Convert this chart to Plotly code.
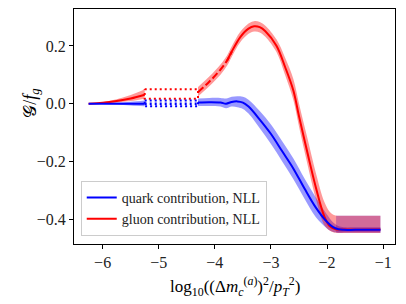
import plotly.graph_objects as go

# ---------------- data ----------------
# quark, left solid part
q_left_x = [-6.25, -6.0, -5.75, -5.5, -5.25]
q_left_y = [0.0, 0.0, 0.0, 0.0, 0.0]
q_left_hi = [0.0, 0.002, 0.004, 0.007, 0.011]
q_left_lo = [0.0, -0.001, -0.003, -0.006, -0.009]

# gluon, left solid part
g_left_x = [-6.25, -6.0, -5.75, -5.5, -5.25]
g_left_y = [0.0, 0.003, 0.009, 0.018, 0.031]
g_left_hi = [0.0, 0.005, 0.015, 0.030, 0.050]
g_left_lo = [0.0, 0.001, 0.004, 0.009, 0.017]

# dotted (unreliable) window
win_x = [-5.25, -4.3]
q_win_y = [0.0, 0.0]
q_win_hi = [0.011, 0.011]
q_win_lo = [-0.009, -0.009]
g_win_hi = [0.050, 0.050]
g_win_lo = [0.017, 0.017]

# quark, right part
q_x = [-4.3, -4.1, -3.9, -3.8, -3.7, -3.6, -3.5, -3.4, -3.2, -3.0, -2.8, -2.6,
       -2.4, -2.2, -2.0, -1.9, -1.8, -1.7, -1.5, -1.05]
q_y = [0.004, 0.005, 0.004, 0.0, 0.006, 0.008, 0.004, -0.010, -0.055, -0.105,
       -0.165, -0.225, -0.295, -0.360, -0.410, -0.427, -0.435, -0.437, -0.437, -0.437]
q_hi = [0.018, 0.020, 0.020, 0.018, 0.024, 0.026, 0.024, 0.014, -0.025, -0.072,
        -0.130, -0.190, -0.260, -0.325, -0.385, -0.410, -0.424, -0.428, -0.428, -0.428]
q_lo = [-0.008, -0.008, -0.010, -0.016, -0.010, -0.012, -0.018, -0.034, -0.085, -0.140,
        -0.200, -0.262, -0.330, -0.393, -0.432, -0.444, -0.447, -0.446, -0.446, -0.446]

# quark band on the plateau (coincides with the gluon band)
q_end_x = [-1.84, -1.05]
q_end_hi = [-0.388, -0.388]
q_end_lo = [-0.446, -0.446]

# gluon, right part (dashed up to -3.78, solid after)
g_x = [-4.3, -4.1, -3.9, -3.78, -3.7, -3.55, -3.4, -3.3, -3.2, -3.1, -2.9, -2.75,
       -2.6, -2.5, -2.35, -2.2, -2.05, -1.95, -1.85, -1.7, -1.05]
g_y = [0.040, 0.076, 0.118, 0.150, 0.180, 0.230, 0.260, 0.268, 0.265, 0.251, 0.200,
       0.128, 0.045, -0.044, -0.170, -0.290, -0.390, -0.425, -0.435, -0.436, -0.436]
g_hi = [0.058, 0.094, 0.136, 0.168, 0.198, 0.248, 0.278, 0.286, 0.283, 0.270, 0.222,
        0.160, 0.085, 0.000, -0.120, -0.240, -0.340, -0.375, -0.387, -0.388, -0.388]
g_lo = [0.025, 0.060, 0.100, 0.132, 0.162, 0.212, 0.242, 0.250, 0.247, 0.232, 0.178,
        0.100, 0.012, -0.080, -0.210, -0.330, -0.420, -0.440, -0.447, -0.448, -0.448]
g_dash_end = 4  # index up to which the central gluon line is dashed

BLUE = "rgb(0,0,255)"
RED = "rgb(255,0,0)"
BLUE_FILL = "rgba(0,0,255,0.4)"
RED_FILL = "rgba(255,0,0,0.4)"
SERIF = "Liberation Serif, DejaVu Serif, serif"

fig = go.Figure()


def band(x, lo, hi, fill, shape="spline"):
    fig.add_trace(go.Scatter(x=x, y=lo, mode="lines", line=dict(width=0, shape=shape),
                             showlegend=False, hoverinfo="skip"))
    fig.add_trace(go.Scatter(x=x, y=hi, mode="lines", line=dict(width=0, shape=shape),
                             fill="tonexty", fillcolor=fill, showlegend=False, hoverinfo="skip"))


def line(x, y, color, dash="solid", width=2, name=None, legend=False, shape="spline"):
    fig.add_trace(go.Scatter(x=x, y=y, mode="lines",
                             line=dict(color=color, width=width, dash=dash, shape=shape),
                             name=name, showlegend=legend, hoverinfo="skip"))


def box(x, lo, hi, color):
    bx = [x[0], x[1], x[1], x[0], x[0]]
    by = [hi[0], hi[1], lo[1], lo[0], hi[0]]
    line(bx, by, color, dash="2px,3px", width=2, shape="linear")


# bands
band(q_left_x, q_left_lo, q_left_hi, BLUE_FILL)
band(q_x, q_lo, q_hi, BLUE_FILL)
band(q_end_x, q_end_lo, q_end_hi, "rgba(0,0,255,0.3)", shape="linear")
band(g_left_x, g_left_lo, g_left_hi, RED_FILL)
band(g_x, g_lo, g_hi, RED_FILL)

# dotted window
box(win_x, g_win_lo, g_win_hi, RED)
box(win_x, q_win_lo, q_win_hi, BLUE)
line(win_x, q_win_y, BLUE, dash="2px,3px", width=2.5, shape="linear")

# central lines
line(g_left_x, g_left_y, RED)
line(g_x[:g_dash_end + 1], g_y[:g_dash_end + 1], RED, dash="7px,3px")
line(g_x[g_dash_end - 1:], g_y[g_dash_end - 1:], RED)
line(q_left_x, q_left_y, BLUE)
line(q_x, q_y, BLUE)

# legend entries
fig.add_trace(go.Scatter(x=[None], y=[None], mode="lines", line=dict(color=BLUE, width=2),
                         name="quark contribution, NLL"))
fig.add_trace(go.Scatter(x=[None], y=[None], mode="lines", line=dict(color=RED, width=2),
                         name="gluon contribution, NLL"))

axis_common = dict(showgrid=False, zeroline=False, showline=True, linecolor="black",
                   linewidth=1, mirror=True, ticks="outside", ticklen=4, tickwidth=1,
                   tickcolor="black", tickfont=dict(family=SERIF, size=16, color="#222222"))

fig.update_layout(
    width=406, height=304,
    margin=dict(l=74, r=11, t=9, b=60),
    paper_bgcolor="white", plot_bgcolor="white",
    font=dict(family=SERIF, color="black"),
    xaxis=dict(range=[-6.51, -0.79], tickvals=[-6, -5, -4, -3, -2, -1], **axis_common),
    yaxis=dict(range=[-0.486, 0.328], tickvals=[-0.4, -0.2, 0.0, 0.2], tickformat=".1f",
               **axis_common),
    legend=dict(x=0.021, y=0.034, xanchor="left", yanchor="bottom", traceorder="normal",
                bgcolor="rgba(255,255,255,0.8)", bordercolor="#cccccc", borderwidth=1,
                font=dict(family=SERIF, size=14, color="#222222"),
                tracegroupgap=0, itemwidth=30),
    showlegend=True,
    annotations=[
        dict(text="log<sub>10</sub>((Δ<i>m</i><sub><i>c</i></sub><sup>(<i>a</i>)</sup>)<sup>2</sup>/<i>p</i><sub><i>T</i></sub><sup>2</sup>)",
             xref="paper", yref="paper", x=0.5, y=-0.12, xanchor="center", yanchor="top",
             showarrow=False, font=dict(family=SERIF, size=17, color="black")),
        dict(text="𝒢/<i>f</i><sub><i>g</i></sub>", textangle=-90,
             xref="paper", yref="paper", x=-0.135, y=0.6, xanchor="center", yanchor="middle",
             showarrow=False, font=dict(family=SERIF, size=18, color="black")),
    ],
)

fig.write_html("out.html", config={"displayModeBar": False},
               post_script="document.body.style.margin='0';")
